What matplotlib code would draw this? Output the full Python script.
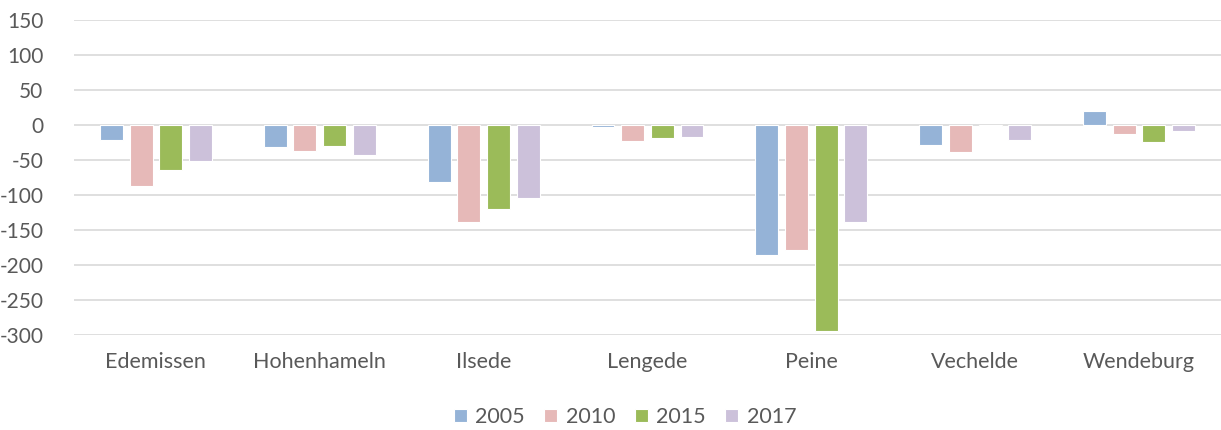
import matplotlib
matplotlib.use("Agg")
import matplotlib.pyplot as plt
import numpy as np

categories = ["Edemissen", "Hohenhameln", "Ilsede", "Lengede", "Peine", "Vechelde", "Wendeburg"]
series_names = ["2005", "2010", "2015", "2017"]
v2005 = [-22, -32, -82, -3, -185, -29, 20]
v2010 = [-87, -37, -138, -23, -179, -38, -13]
v2015 = [-64, -30, -120, -18, -294, -1, -24]
v2017 = [-52, -43, -104, -17, -139, -22, -9]
yticks = [150, 100, 50, 0, -50, -100, -150, -200, -250, -300]

colors = ["#95B3D7", "#E6B9B8", "#9BBB59", "#CCC1DA"]
text_color = "#595959"

plt.rcParams['font.family'] = ['Lato', 'DejaVu Sans']
plt.rcParams['axes.unicode_minus'] = False

fig = plt.figure(figsize=(12.21, 4.30), dpi=100)
ax = fig.add_axes([74/1221, 1-335/430, (1221-74)/1221, 315/430])

x = np.arange(len(categories))
pitch = 0.181
width = 0.14
all_vals = [v2005, v2010, v2015, v2017]
for i, (name, vals, c) in enumerate(zip(series_names, all_vals, colors)):
    ax.bar(x + (i - 1.5) * pitch, vals, width=width, color=c, label=name,
           edgecolor="white", linewidth=0.8, zorder=3)

ax.set_xlim(-0.5, len(categories) - 0.5)
ax.set_ylim(-300, 150)
ax.set_yticks(yticks)
ax.set_xticks(x)
ax.set_xticklabels(categories)
ax.tick_params(axis='x', length=0, labelsize=15.5, colors=text_color, pad=12)
ax.tick_params(axis='y', length=0, labelsize=15, colors=text_color, pad=22)
ax.grid(axis='y', color="#D9D9D9", linewidth=1.2, zorder=0)
for s in ax.spines.values():
    s.set_visible(False)

leg = fig.legend(loc='center', bbox_to_anchor=(625/1221, 1-417/430), ncol=4, frameon=False,
                 fontsize=15.5, handlelength=0.6, handleheight=0.6, handletextpad=0.4,
                 columnspacing=0.9)
for t in leg.get_texts():
    t.set_color(text_color)

fig.savefig("out.png", dpi=100)
